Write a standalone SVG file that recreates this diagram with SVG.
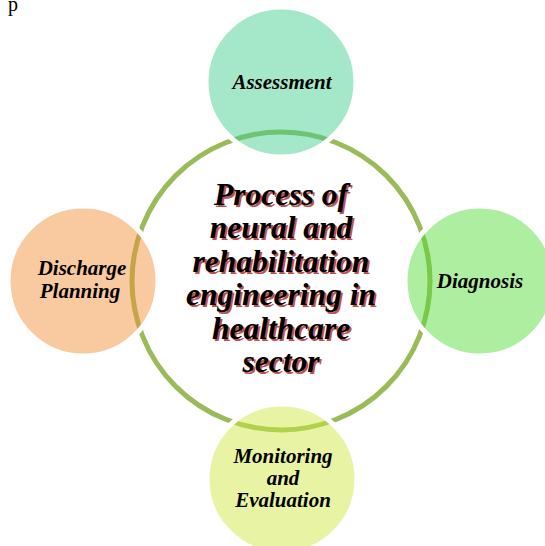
<svg xmlns="http://www.w3.org/2000/svg" xmlns:xlink="http://www.w3.org/1999/xlink" width="545" height="546" viewBox="0 0 545 546">
<style>
.bg{fill:#ffffff}
.ring{fill:none;stroke:#9BBB59;stroke-width:5}
.node{fill-opacity:0.47;stroke:#ffffff;stroke-width:5;stroke-opacity:1}
.lbl{font-family:"Liberation Serif","Times New Roman",serif;font-weight:bold;font-style:italic;font-size:21px;fill:#000;text-anchor:middle}
.title{font-family:"Liberation Serif","Times New Roman",serif;font-weight:bold;font-style:italic;font-size:31.5px;text-anchor:middle}
.page{font-family:"Liberation Serif","Times New Roman",serif;font-size:20px;fill:#000}
</style>
<defs>
<g id="titleText" class="title">
<text x="281" y="205">Process of</text>
<text x="281" y="238.4">neural and</text>
<text x="281" y="271.8">rehabilitation</text>
<text x="281" y="305.2">engineering in</text>
<text x="281" y="338.6">healthcare</text>
<text x="281" y="372">sector</text>
</g>
</defs>
<rect class="bg" x="0" y="0" width="545" height="546"/>
<text class="page" x="8" y="11">p</text>
<g id="connectors">
<circle class="ring" cx="281" cy="281" r="149"/>
</g>
<g id="node-center">
<use xlink:href="#titleText" href="#titleText" x="2" y="2" fill="#C0504D"/>
<use xlink:href="#titleText" href="#titleText" fill="#000000"/>
</g>
<g id="node-assessment">
<circle class="node" cx="281" cy="82" r="75" fill="#3ECE8C"/>
<text class="lbl" x="282" y="89">Assessment</text>
</g>
<g id="node-diagnosis">
<circle class="node" cx="480" cy="281" r="75" fill="#53DB35"/>
<text class="lbl" x="480" y="288">Diagnosis</text>
</g>
<g id="node-monitoring">
<circle class="node" cx="282" cy="479" r="75" fill="#CEE83E"/>
<text class="lbl" x="283" y="462.5">Monitoring</text>
<text class="lbl" x="283" y="484.5">and</text>
<text class="lbl" x="283" y="506.5">Evaluation</text>
</g>
<g id="node-discharge">
<circle class="node" cx="83" cy="281" r="75" fill="#F38C35"/>
<text class="lbl" x="82" y="275">Discharge</text>
<text class="lbl" x="80" y="297.5">Planning</text>
</g>
</svg>
